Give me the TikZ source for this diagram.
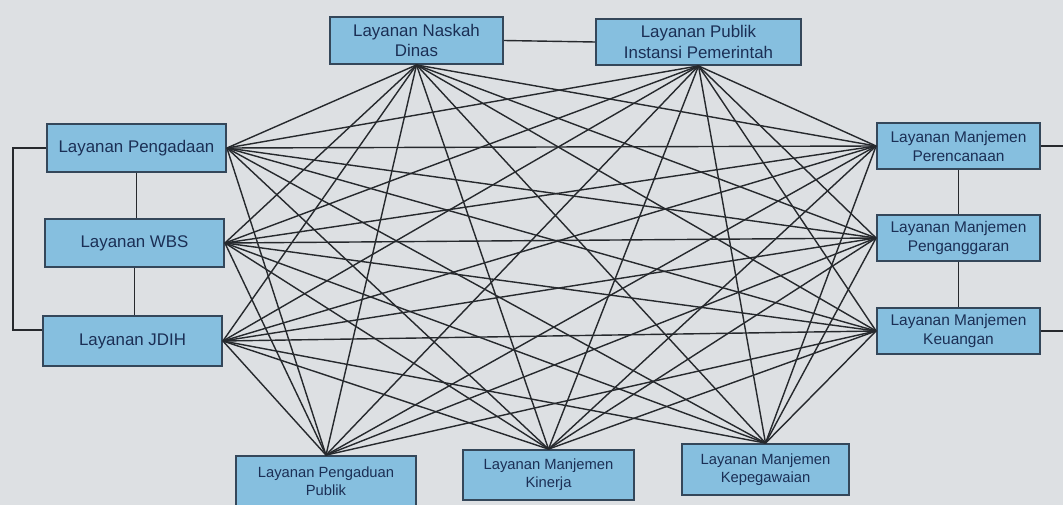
\documentclass[tikz,border=0pt]{standalone}
\usepackage{fontspec}
\setmainfont{Liberation Sans}
\usetikzlibrary{calc}

\definecolor{bgGray}{HTML}{DDE0E3}
\definecolor{boxBlue}{HTML}{86BFDF}
\definecolor{boxLine}{HTML}{34475A}
\definecolor{txtNavy}{HTML}{1B2F55}
\definecolor{wireGray}{HTML}{26292D}

\newdimen\px
\px=0.025cm

\tikzset{
  svcbox/.style={draw=boxLine,line width=1.3pt,fill=boxBlue,text=txtNavy,
    align=center,inner sep=1pt,font=\fontsize{12}{14.5}\selectfont},
  wire/.style={draw=wireGray,line width=1pt},
}

\begin{document}
\begin{tikzpicture}[x=0.025cm,y=-0.025cm]
  \fill[bgGray] (0,0) rectangle (1063,505);
  \useasboundingbox (0,0) rectangle (1063,505);
  % top
  \node[svcbox,minimum width=173\px,minimum height=47\px] (nas) at (416.5,40.5) {Layanan Naskah\\Dinas};
  \node[svcbox,minimum width=205\px,minimum height=46\px] (pub) at (698.5,42) {Layanan Publik\\Instansi Pemerintah};
  % left
  \node[svcbox,minimum width=179\px,minimum height=48\px] (pgd) at (136.5,148) {Layanan Pengadaan};
  \node[svcbox,minimum width=179\px,minimum height=48\px] (wbs) at (134.5,243) {Layanan WBS};
  \node[svcbox,minimum width=179\px,minimum height=50\px] (jdih) at (132.5,341) {Layanan JDIH};
  % right
  \node[svcbox,font=\fontsize{11}{13.5}\selectfont,minimum width=163\px,minimum height=46\px] (ren) at (958.5,146) {Layanan Manjemen\\Perencanaan};
  \node[svcbox,font=\fontsize{11}{13.5}\selectfont,minimum width=163\px,minimum height=46\px] (ang) at (958.5,238) {Layanan Manjemen\\Penganggaran};
  \node[svcbox,font=\fontsize{11}{13.5}\selectfont,minimum width=163\px,minimum height=46\px] (keu) at (958.5,331) {Layanan Manjemen\\Keuangan};
  % bottom
  \node[svcbox,font=\fontsize{10.5}{13}\selectfont,minimum width=180\px,minimum height=50\px] (adu) at (326,481) {Layanan Pengaduan\\Publik};
  \node[svcbox,font=\fontsize{10.5}{13}\selectfont,minimum width=171\px,minimum height=50\px] (kin) at (548.5,475) {Layanan Manjemen\\Kinerja};
  \node[svcbox,font=\fontsize{10.5}{13}\selectfont,minimum width=167\px,minimum height=51\px] (peg) at (765.5,469.5) {Layanan Manjemen\\Kepegawaian};
  \coordinate (rEdgeA) at (1063,146);
  \coordinate (rEdgeB) at (1063,331);

  % links inside each group
  \draw[wire] (nas.east) -- (pub.west);
  \draw[wire] (pgd.south) -- (pgd.south |- wbs.north);
  \draw[wire] (wbs.south) -- (wbs.south |- jdih.north);
  \draw[wire] (pgd.west) -| (13,330) -- (jdih.west |- 0,330);
  \draw[wire] (ren.south) -- (ang.north);
  \draw[wire] (ang.south) -- (keu.north);
  \draw[wire] (ren.east) -- (rEdgeA);
  \draw[wire] (keu.east) -- (rEdgeB);
  % links between groups
  \foreach \l in {pgd,wbs,jdih}{
    \foreach \t in {nas,pub} \draw[wire] (\l.east) -- (\t.south);
    \foreach \r in {ren,ang,keu} \draw[wire] (\l.east) -- (\r.west);
    \foreach \b in {adu,kin,peg} \draw[wire] (\l.east) -- (\b.north);
  }
  \foreach \t in {nas,pub}{
    \foreach \r in {ren,ang,keu} \draw[wire] (\t.south) -- (\r.west);
    \foreach \b in {adu,kin,peg} \draw[wire] (\t.south) -- (\b.north);
  }
  \foreach \r in {ren,ang,keu}
    \foreach \b in {adu,kin,peg} \draw[wire] (\r.west) -- (\b.north);
\end{tikzpicture}
\end{document}
